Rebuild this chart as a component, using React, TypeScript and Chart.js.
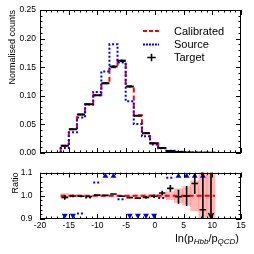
import React, { useEffect, useRef } from "react";
import { Chart, registerables } from "chart.js";
Chart.register(...registerables);

const FONT = "'Liberation Sans', Arial, Helvetica, sans-serif";

// Histogram binning (edges)
const binEdges = [-16.40, -14.98, -13.57, -12.15, -10.74, -9.32, -7.91, -6.50, -5.08, -3.67, -2.25, -0.84, 0.58, 1.99, 3.41, 4.82, 6.24, 7.65, 9.07, 10.48];

// Upper panel: normalised counts
const target = [0.0125, 0.0415, 0.067, 0.085, 0.101, 0.122, 0.151, 0.161, 0.116, 0.065, 0.0345, 0.017, 0.0085, 0.0035, 0.0016, 0.0008, 0.0004, 0.0002, 0.0001];
const targetErr = [0.0008, 0.0012, 0.0015, 0.0016, 0.0018, 0.002, 0.0022, 0.0022, 0.0019, 0.0014, 0.001, 0.0007, 0.0005, 0.0003, 0.0002, 0.00015, 0.0001, 0.0001, 0.0001];
const calibrated = [0.0126, 0.0415, 0.0671, 0.0853, 0.1007, 0.1218, 0.1500, 0.1612, 0.1166, 0.0657, 0.0348, 0.0170, 0.0084, 0.0034, 0.0016, 0.0008, 0.0004, 0.0002, 0.0001];
const source = [0.0084, 0.036, 0.062, 0.0847, 0.1065, 0.1425, 0.190, 0.158, 0.0905, 0.0505, 0.029, 0.0145, 0.0083, 0.0037, 0.002, 0.0011, 0.0006, 0.0003, 0.0];

// Lower panel: ratios to Calibrated
const ratioTarget = [0.993, 0.999, 0.998, 0.997, 1.003, 1.002, 1.008, 0.998, 0.992, 0.990, 0.993, 0.998, 1.012, 1.032, 0.996, 0.999, 1.053, 0.940, 0.700];
const ratioTargetErr = [0.010, 0.005, 0.004, 0.003, 0.003, 0.003, 0.003, 0.003, 0.003, 0.004, 0.006, 0.008, 0.010, 0.015, 0.030, 0.043, 0.045, 0.170, 0.400];
const ratioCalibratedErr = [0.010, 0.005, 0.004, 0.003, 0.003, 0.003, 0.003, 0.003, 0.003, 0.004, 0.005, 0.006, 0.007, 0.017, 0.030, 0.040, 0.065, 0.200, 0.200];
const ratioSource = [0.67, 0.87, 0.924, 0.993, 1.057, 1.17, 1.26, 0.985, 0.78, 0.77, 0.84, 0.85, 0.99, 1.078, 1.3, 1.4, 1.5, 1.6, null];

// Axes
const xTicks = [-20, -15, -10, -5, 0, 5, 10, 15];
const yTicksTop = [0, 0.05, 0.1, 0.15, 0.2, 0.25];
const yTicksRatio = [0.9, 1.0, 1.1];
const legendLabels = ["Calibrated", "Source", "Target"];
const yTitleTop = "Normalised counts";
const yTitleRatio = "Ratio";
const xTitleParts = [
  { text: "ln(p", sub: false },
  { text: "Hbb", sub: true },
  { text: "/p", sub: false },
  { text: "QCD", sub: true },
  { text: ")", sub: false },
];

const RED = "#ff0000";
const BLUE = "#0000ff";
const PINK = "rgba(255, 0, 0, 0.28)";

const centers = binEdges.slice(0, -1).map((e, i) => (e + binEdges[i + 1]) / 2);
const halfWidths = binEdges.slice(0, -1).map((e, i) => (binEdges[i + 1] - e) / 2);

function stepPoints(vals: number[]) {
  const pts: { x: number; y: number }[] = [{ x: binEdges[0], y: 0 }];
  vals.forEach((v, i) => pts.push({ x: binEdges[i], y: v }));
  pts.push({ x: binEdges[vals.length], y: 0 });
  return pts;
}

function makeFrame(xMinorStep: number, yMinorStep: number, yMajors: number[], majorLen: number, minorLen: number) {
  return {
    id: "frameTicks",
    afterDraw(chart: any) {
      const { ctx, chartArea: a, scales } = chart;
      const x = scales.x, y = scales.y;
      ctx.save();
      ctx.strokeStyle = "#000";
      ctx.lineWidth = 1;
      ctx.strokeRect(Math.round(a.left) + 0.5, Math.round(a.top) + 0.5, Math.round(a.right - a.left) - 1, Math.round(a.bottom - a.top) - 1);
      ctx.beginPath();
      const nx = Math.round((x.max - x.min) / xMinorStep);
      for (let i = 0; i <= nx; i++) {
        const v = x.min + i * xMinorStep;
        const isMajor = xTicks.some((t) => Math.abs(t - v) < 1e-6);
        const len = isMajor ? majorLen : minorLen;
        const px = Math.round(x.getPixelForValue(v)) + 0.5;
        ctx.moveTo(px, a.bottom);
        ctx.lineTo(px, a.bottom - len);
        ctx.moveTo(px, a.top);
        ctx.lineTo(px, a.top + len);
      }
      const ny = Math.round((y.max - y.min) / yMinorStep);
      for (let i = 0; i <= ny; i++) {
        const v = y.min + i * yMinorStep;
        const isMajor = yMajors.some((t) => Math.abs(t - v) < 1e-6);
        const len = isMajor ? majorLen : minorLen;
        const py = Math.round(y.getPixelForValue(v)) + 0.5;
        ctx.moveTo(a.left, py);
        ctx.lineTo(a.left + len, py);
        ctx.moveTo(a.right, py);
        ctx.lineTo(a.right - len, py);
      }
      ctx.stroke();
      ctx.restore();
    },
  };
}

const crossPlugin = {
  id: "crosses",
  afterDatasetsDraw(chart: any) {
    const { ctx, chartArea: a, scales } = chart;
    const x = scales.x, y = scales.y;
    ctx.save();
    ctx.beginPath();
    ctx.rect(a.left, a.top, a.right - a.left, a.bottom - a.top);
    ctx.clip();
    chart.data.datasets.forEach((ds: any) => {
      if (!ds.cross) return;
      const c = ds.cross;
      ctx.strokeStyle = ds.borderColor;
      ctx.fillStyle = ds.borderColor;
      ctx.lineWidth = c.width;
      ds.data.forEach((p: any, i: number) => {
        const px = x.getPixelForValue(p.x);
        const py = y.getPixelForValue(p.y);
        const x0 = x.getPixelForValue(p.x - c.xe[i] * c.frac);
        const x1 = x.getPixelForValue(p.x + c.xe[i] * c.frac);
        const y0 = y.getPixelForValue(p.y - c.ye[i]);
        const y1 = y.getPixelForValue(p.y + c.ye[i]);
        ctx.beginPath();
        ctx.moveTo(x0, py);
        ctx.lineTo(x1, py);
        ctx.moveTo(px, y0);
        ctx.lineTo(px, y1);
        ctx.stroke();
        if (c.arrows && p.y < y.min) {
          const by = a.bottom - 1;
          ctx.beginPath();
          ctx.moveTo(px - 2.5, by - 5);
          ctx.lineTo(px, by);
          ctx.lineTo(px + 2.5, by - 5);
          ctx.stroke();
        }
      });
    });
    ctx.restore();
  },
};

const legendPlugin = {
  id: "legendBox",
  afterDraw(chart: any) {
    const ctx = chart.ctx;
    const dsBy = (label: string) => chart.data.datasets.find((d: any) => d.label === label);
    const rows = [31, 44.5, 57.5];
    const sx0 = 143, sx1 = 159, tx = 174;
    ctx.save();
    ctx.font = "11px " + FONT;
    ctx.textBaseline = "middle";
    ctx.fillStyle = "#000";
    legendLabels.forEach((lab, i) => {
      const ds: any = dsBy(lab);
      const yy = rows[i];
      ctx.beginPath();
      if (lab === "Target") {
        ctx.strokeStyle = "#000";
        ctx.lineWidth = 1.6;
        ctx.setLineDash([]);
        ctx.moveTo(147.3, yy);
        ctx.lineTo(155.7, yy);
        ctx.moveTo(151.5, yy - 3.8);
        ctx.lineTo(151.5, yy + 3.8);
      } else {
        ctx.strokeStyle = ds.borderColor;
        ctx.lineWidth = 2;
        ctx.setLineDash(ds.legendDash);
        ctx.moveTo(sx0, yy);
        ctx.lineTo(sx1, yy);
      }
      ctx.stroke();
      ctx.setLineDash([]);
      ctx.fillText(lab, tx, yy + 0.5);
    });
    ctx.restore();
  },
};

function xTitlePartsWidths(ctx: CanvasRenderingContext2D, mainFont: string, subFont: string) {
  return xTitleParts.map((p) => {
    ctx.font = p.sub ? subFont : mainFont;
    return ctx.measureText(p.text).width;
  });
}

const xTitlePlugin = {
  id: "xTitle",
  afterDraw(chart: any) {
    const { ctx, chartArea: a } = chart;
    ctx.save();
    ctx.fillStyle = "#000";
    ctx.textBaseline = "alphabetic";
    const mainFont = "11px " + FONT;
    const subFont = "italic 8px " + FONT;
    let total = 0;
    const widths = xTitlePartsWidths(ctx, mainFont, subFont);
    widths.forEach((w) => (total += w));
    let cx = a.right - 2 - total;
    const base = a.bottom + 22.5;
    xTitleParts.forEach((p, i) => {
      ctx.font = p.sub ? subFont : mainFont;
      ctx.fillText(p.text, cx, p.sub ? base + 2.5 : base);
      cx += widths[i];
    });
    ctx.restore();
  },
};

export default function App() {
  const topRef = useRef<HTMLCanvasElement>(null);
  const botRef = useRef<HTMLCanvasElement>(null);

  useEffect(() => {
    Chart.defaults.font.family = FONT;
    Chart.defaults.color = "#000";

    const top = new Chart(topRef.current as HTMLCanvasElement, {
      type: "line",
      data: {
        datasets: [
          {
            label: "Target",
            data: centers.map((c, i) => ({ x: c, y: target[i] })),
            showLine: false,
            pointRadius: 0,
            borderColor: "#000",
            order: 0,
            cross: { xe: halfWidths, ye: targetErr, width: 2, frac: 1 },
          } as any,
          {
            label: "Source",
            data: stepPoints(source),
            borderColor: BLUE,
            borderWidth: 2,
            borderDash: [2, 2],
            borderCapStyle: "butt",
            stepped: true,
            pointRadius: 0,
            fill: false,
            order: 1,
            legendDash: [2, 1],
          } as any,
          {
            label: "Calibrated",
            data: stepPoints(calibrated),
            borderColor: RED,
            borderWidth: 2,
            borderDash: [5, 3],
            stepped: true,
            pointRadius: 0,
            fill: false,
            order: 2,
            legendDash: [4, 2],
          } as any,
        ],
      },
      options: {
        animation: false,
        responsive: false,
        devicePixelRatio: 1,
        layout: { padding: { left: 0, right: 13, top: 10, bottom: 0 } },
        plugins: { legend: { display: false }, tooltip: { enabled: false } },
        scales: {
          x: {
            type: "linear",
            min: -20,
            max: 15,
            offset: false,
            grid: { display: false, drawTicks: false },
            border: { display: false },
            ticks: { display: false },
            afterFit: (s: any) => { s.height = 7; },
          },
          y: {
            type: "linear",
            min: 0,
            max: 0.25,
            grid: { display: false, drawTicks: false },
            border: { display: false },
            ticks: {
              font: { size: 8.5, family: FONT },
              color: "#000",
              padding: 4,
              autoSkip: false,
              callback: (v: any) => Number(v).toFixed(2),
            },
            afterBuildTicks: (s: any) => { s.ticks = yTicksTop.map((v) => ({ value: v })); },
            afterFit: (s: any) => { s.width = 40; },
            title: {
              display: true,
              text: yTitleTop,
              align: "end",
              color: "#000",
              font: { size: 9, family: FONT },
              padding: { top: 7, bottom: 0 },
            },
          },
        },
      } as any,
      plugins: [makeFrame(1, 0.01, yTicksTop, 5, 2.5), crossPlugin, legendPlugin],
    });

    const inRange = (r: number | null) => r !== null && r >= 0.9 && r <= 1.1;
    const segs: any[] = [];
    ratioSource.forEach((r, i) => {
      if (inRange(r)) {
        segs.push({ x: binEdges[i], y: r });
        segs.push({ x: binEdges[i + 1], y: r });
        segs.push({ x: binEdges[i + 1], y: null });
      }
    });
    const inset = 0.015;
    const tri: any[] = [];
    ratioSource.forEach((r, i) => {
      if (r === null || inRange(r)) return;
      const up = r > 1.1;
      tri.push({ x: centers[i], y: up ? 1.1 - inset : 0.9 + inset, up });
    });

    const bot = new Chart(botRef.current as HTMLCanvasElement, {
      type: "line",
      data: {
        datasets: [
          {
            label: "TargetRatio",
            data: centers.map((c, i) => ({ x: c, y: ratioTarget[i] })),
            showLine: false,
            pointRadius: 0,
            borderColor: "#000",
            order: 0,
            cross: { xe: halfWidths, ye: ratioTargetErr, width: 1.6, frac: 0.8, arrows: true },
          } as any,
          {
            label: "SourceRatioOut",
            data: tri,
            showLine: false,
            pointStyle: "triangle",
            pointRadius: 3.4,
            pointBorderWidth: 0,
            pointBackgroundColor: BLUE,
            pointBorderColor: BLUE,
            pointRotation: (ctx: any) => (ctx.raw && ctx.raw.up ? 0 : 180),
            clip: false,
            order: 1,
          } as any,
          {
            label: "SourceRatio",
            data: segs,
            borderColor: BLUE,
            borderWidth: 2,
            borderDash: [2, 2],
            pointRadius: 0,
            spanGaps: false,
            fill: false,
            order: 1,
          } as any,
          {
            label: "CalibratedRatio",
            data: [{ x: binEdges[0], y: 1 }, { x: binEdges[binEdges.length - 1], y: 1 }],
            borderColor: RED,
            borderWidth: 2,
            borderDash: [5, 3],
            pointRadius: 0,
            fill: false,
            order: 2,
          } as any,
          {
            type: "bar",
            label: "CalibratedBand",
            data: centers.map((c, i) => ({ x: c, y: [1 - ratioCalibratedErr[i], 1 + ratioCalibratedErr[i]] })),
            backgroundColor: PINK,
            borderWidth: 0,
            barPercentage: 1,
            categoryPercentage: 1,
            grouped: false,
            order: 3,
          } as any,
        ],
      },
      options: {
        animation: false,
        responsive: false,
        devicePixelRatio: 1,
        layout: { padding: { left: 0, right: 13, top: 12, bottom: 0 } },
        plugins: { legend: { display: false }, tooltip: { enabled: false } },
        scales: {
          x: {
            type: "linear",
            min: -20,
            max: 15,
            offset: false,
            grid: { display: false, drawTicks: false },
            border: { display: false },
            ticks: {
              font: { size: 8.5, family: FONT },
              color: "#000",
              padding: 1.5,
              autoSkip: false,
              maxRotation: 0,
              callback: (v: any) => String(v),
            },
            afterBuildTicks: (s: any) => { s.ticks = xTicks.map((v) => ({ value: v })); },
            afterFit: (s: any) => { s.height = 35; },
          },
          y: {
            type: "linear",
            min: 0.9,
            max: 1.1,
            grid: { display: false, drawTicks: false },
            border: { display: false },
            ticks: {
              font: { size: 8.5, family: FONT },
              color: "#000",
              padding: 7.5,
              autoSkip: false,
              callback: (v: any) => Number(v).toFixed(1),
            },
            afterBuildTicks: (s: any) => { s.ticks = yTicksRatio.map((v) => ({ value: v })); },
            afterFit: (s: any) => { s.width = 40; },
            title: {
              display: true,
              text: yTitleRatio,
              align: "end",
              color: "#000",
              font: { size: 9, family: FONT },
              padding: { top: 10, bottom: 0 },
            },
          },
        },
      } as any,
      plugins: [makeFrame(1, 0.02, yTicksRatio, 5, 2.5), crossPlugin, xTitlePlugin],
    });

    return () => {
      top.destroy();
      bot.destroy();
    };
  }, []);

  return (
    <div style={{ position: "absolute", left: 0, top: 0, width: 254, height: 254, background: "#fff" }}>
      <canvas ref={topRef} width={254} height={162} style={{ position: "absolute", left: 0, top: 0 }} />
      <canvas ref={botRef} width={254} height={94} style={{ position: "absolute", left: 0, top: 160 }} />
    </div>
  );
}
